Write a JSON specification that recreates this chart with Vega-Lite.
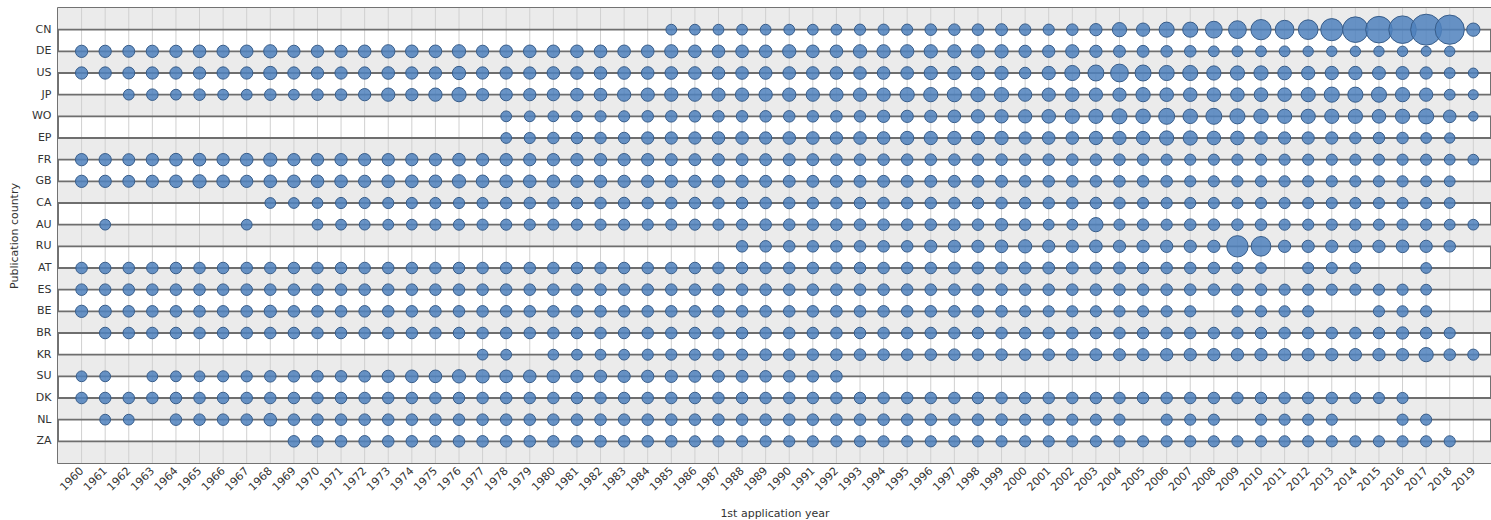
{
"$schema": "https://vega.github.io/schema/vega-lite/v6.json",
"width": 1433, "height": 455,
"autosize": {"type": "none"},
"padding": {"left": 58, "top": 8, "right": 0, "bottom": 57},
"background": "white",
"config": {"view": {"stroke": "#444", "strokeWidth": 1.5}, "font": "DejaVu Sans",
  "axisX": {"format": "d", "labelAngle": -45, "labelAlign": "right", "labelBaseline": "middle", "labelFontSize": 11, "labelColor": "#333", "ticks": false, "domain": false, "grid": false, "labelPadding": 6, "labelOverlap": false, "titleFontSize": 11, "titleFontWeight": "normal", "titleColor": "#333", "titlePadding": 15},
  "axisY": {"ticks": false, "domain": false, "grid": false, "labelFontSize": 11, "labelColor": "#333", "labelPadding": 7, "titleFontSize": 11, "titleFontWeight": "normal", "titleColor": "#333", "titlePadding": 12}},
"data": {"values": [
{"c":"CN","y":1985,"n":3},{"c":"CN","y":1986,"n":3},{"c":"CN","y":1987,"n":3},{"c":"CN","y":1988,"n":3},{"c":"CN","y":1989,"n":3},{"c":"CN","y":1990,"n":3},{"c":"CN","y":1991,"n":3},{"c":"CN","y":1992,"n":3},{"c":"CN","y":1993,"n":4},{"c":"CN","y":1994,"n":4},{"c":"CN","y":1995,"n":4},{"c":"CN","y":1996,"n":5},{"c":"CN","y":1997,"n":5},{"c":"CN","y":1998,"n":5},{"c":"CN","y":1999,"n":6},{"c":"CN","y":2000,"n":5},{"c":"CN","y":2001,"n":4},{"c":"CN","y":2002,"n":5},{"c":"CN","y":2003,"n":7},{"c":"CN","y":2004,"n":13},{"c":"CN","y":2005,"n":10},{"c":"CN","y":2006,"n":16},{"c":"CN","y":2007,"n":16},{"c":"CN","y":2008,"n":22},{"c":"CN","y":2009,"n":26},{"c":"CN","y":2010,"n":37},{"c":"CN","y":2011,"n":30},{"c":"CN","y":2012,"n":34},{"c":"CN","y":2013,"n":46},{"c":"CN","y":2014,"n":65},{"c":"CN","y":2015,"n":71},{"c":"CN","y":2016,"n":77},{"c":"CN","y":2017,"n":100},{"c":"CN","y":2018,"n":88},{"c":"CN","y":2019,"n":10},
{"c":"DE","y":1960,"n":7},{"c":"DE","y":1961,"n":7},{"c":"DE","y":1962,"n":6},{"c":"DE","y":1963,"n":7},{"c":"DE","y":1964,"n":7},{"c":"DE","y":1965,"n":8},{"c":"DE","y":1966,"n":7},{"c":"DE","y":1967,"n":8},{"c":"DE","y":1968,"n":10},{"c":"DE","y":1969,"n":7},{"c":"DE","y":1970,"n":7},{"c":"DE","y":1971,"n":7},{"c":"DE","y":1972,"n":8},{"c":"DE","y":1973,"n":10},{"c":"DE","y":1974,"n":8},{"c":"DE","y":1975,"n":8},{"c":"DE","y":1976,"n":10},{"c":"DE","y":1977,"n":7},{"c":"DE","y":1978,"n":8},{"c":"DE","y":1979,"n":8},{"c":"DE","y":1980,"n":8},{"c":"DE","y":1981,"n":8},{"c":"DE","y":1982,"n":8},{"c":"DE","y":1983,"n":8},{"c":"DE","y":1984,"n":8},{"c":"DE","y":1985,"n":10},{"c":"DE","y":1986,"n":8},{"c":"DE","y":1987,"n":8},{"c":"DE","y":1988,"n":8},{"c":"DE","y":1989,"n":8},{"c":"DE","y":1990,"n":10},{"c":"DE","y":1991,"n":8},{"c":"DE","y":1992,"n":8},{"c":"DE","y":1993,"n":10},{"c":"DE","y":1994,"n":10},{"c":"DE","y":1995,"n":10},{"c":"DE","y":1996,"n":10},{"c":"DE","y":1997,"n":10},{"c":"DE","y":1998,"n":10},{"c":"DE","y":1999,"n":10},{"c":"DE","y":2000,"n":7},{"c":"DE","y":2001,"n":7},{"c":"DE","y":2002,"n":10},{"c":"DE","y":2003,"n":7},{"c":"DE","y":2004,"n":6},{"c":"DE","y":2005,"n":6},{"c":"DE","y":2006,"n":5},{"c":"DE","y":2007,"n":5},{"c":"DE","y":2008,"n":3},{"c":"DE","y":2009,"n":3},{"c":"DE","y":2010,"n":3},{"c":"DE","y":2011,"n":3},{"c":"DE","y":2012,"n":2},{"c":"DE","y":2013,"n":2},{"c":"DE","y":2014,"n":2},{"c":"DE","y":2015,"n":2},{"c":"DE","y":2016,"n":2},{"c":"DE","y":2017,"n":1},{"c":"DE","y":2018,"n":2},
{"c":"US","y":1960,"n":7},{"c":"US","y":1961,"n":7},{"c":"US","y":1962,"n":6},{"c":"US","y":1963,"n":7},{"c":"US","y":1964,"n":7},{"c":"US","y":1965,"n":7},{"c":"US","y":1966,"n":7},{"c":"US","y":1967,"n":7},{"c":"US","y":1968,"n":10},{"c":"US","y":1969,"n":7},{"c":"US","y":1970,"n":7},{"c":"US","y":1971,"n":7},{"c":"US","y":1972,"n":7},{"c":"US","y":1973,"n":8},{"c":"US","y":1974,"n":7},{"c":"US","y":1975,"n":7},{"c":"US","y":1976,"n":10},{"c":"US","y":1977,"n":7},{"c":"US","y":1978,"n":7},{"c":"US","y":1979,"n":7},{"c":"US","y":1980,"n":8},{"c":"US","y":1981,"n":8},{"c":"US","y":1982,"n":8},{"c":"US","y":1983,"n":8},{"c":"US","y":1984,"n":8},{"c":"US","y":1985,"n":8},{"c":"US","y":1986,"n":8},{"c":"US","y":1987,"n":8},{"c":"US","y":1988,"n":8},{"c":"US","y":1989,"n":8},{"c":"US","y":1990,"n":8},{"c":"US","y":1991,"n":8},{"c":"US","y":1992,"n":8},{"c":"US","y":1993,"n":8},{"c":"US","y":1994,"n":8},{"c":"US","y":1995,"n":8},{"c":"US","y":1996,"n":10},{"c":"US","y":1997,"n":10},{"c":"US","y":1998,"n":10},{"c":"US","y":1999,"n":10},{"c":"US","y":2000,"n":5},{"c":"US","y":2001,"n":10},{"c":"US","y":2002,"n":16},{"c":"US","y":2003,"n":19},{"c":"US","y":2004,"n":26},{"c":"US","y":2005,"n":19},{"c":"US","y":2006,"n":16},{"c":"US","y":2007,"n":16},{"c":"US","y":2008,"n":13},{"c":"US","y":2009,"n":13},{"c":"US","y":2010,"n":13},{"c":"US","y":2011,"n":11},{"c":"US","y":2012,"n":10},{"c":"US","y":2013,"n":10},{"c":"US","y":2014,"n":10},{"c":"US","y":2015,"n":9},{"c":"US","y":2016,"n":9},{"c":"US","y":2017,"n":7},{"c":"US","y":2018,"n":3},{"c":"US","y":2019,"n":1},
{"c":"JP","y":1962,"n":3},{"c":"JP","y":1963,"n":5},{"c":"JP","y":1964,"n":3},{"c":"JP","y":1965,"n":5},{"c":"JP","y":1966,"n":3},{"c":"JP","y":1967,"n":3},{"c":"JP","y":1968,"n":5},{"c":"JP","y":1969,"n":3},{"c":"JP","y":1970,"n":5},{"c":"JP","y":1971,"n":5},{"c":"JP","y":1972,"n":7},{"c":"JP","y":1973,"n":10},{"c":"JP","y":1974,"n":7},{"c":"JP","y":1975,"n":10},{"c":"JP","y":1976,"n":13},{"c":"JP","y":1977,"n":7},{"c":"JP","y":1978,"n":7},{"c":"JP","y":1979,"n":7},{"c":"JP","y":1980,"n":7},{"c":"JP","y":1981,"n":8},{"c":"JP","y":1982,"n":8},{"c":"JP","y":1983,"n":10},{"c":"JP","y":1984,"n":10},{"c":"JP","y":1985,"n":10},{"c":"JP","y":1986,"n":10},{"c":"JP","y":1987,"n":10},{"c":"JP","y":1988,"n":10},{"c":"JP","y":1989,"n":10},{"c":"JP","y":1990,"n":10},{"c":"JP","y":1991,"n":10},{"c":"JP","y":1992,"n":10},{"c":"JP","y":1993,"n":10},{"c":"JP","y":1994,"n":10},{"c":"JP","y":1995,"n":13},{"c":"JP","y":1996,"n":13},{"c":"JP","y":1997,"n":13},{"c":"JP","y":1998,"n":13},{"c":"JP","y":1999,"n":13},{"c":"JP","y":2000,"n":10},{"c":"JP","y":2001,"n":10},{"c":"JP","y":2002,"n":11},{"c":"JP","y":2003,"n":10},{"c":"JP","y":2004,"n":10},{"c":"JP","y":2005,"n":13},{"c":"JP","y":2006,"n":11},{"c":"JP","y":2007,"n":11},{"c":"JP","y":2008,"n":11},{"c":"JP","y":2009,"n":11},{"c":"JP","y":2010,"n":11},{"c":"JP","y":2011,"n":11},{"c":"JP","y":2012,"n":13},{"c":"JP","y":2013,"n":16},{"c":"JP","y":2014,"n":16},{"c":"JP","y":2015,"n":16},{"c":"JP","y":2016,"n":13},{"c":"JP","y":2017,"n":10},{"c":"JP","y":2018,"n":3},{"c":"JP","y":2019,"n":1},
{"c":"WO","y":1978,"n":3},{"c":"WO","y":1979,"n":3},{"c":"WO","y":1980,"n":3},{"c":"WO","y":1981,"n":3},{"c":"WO","y":1982,"n":4},{"c":"WO","y":1983,"n":4},{"c":"WO","y":1984,"n":5},{"c":"WO","y":1985,"n":5},{"c":"WO","y":1986,"n":5},{"c":"WO","y":1987,"n":5},{"c":"WO","y":1988,"n":5},{"c":"WO","y":1989,"n":5},{"c":"WO","y":1990,"n":5},{"c":"WO","y":1991,"n":5},{"c":"WO","y":1992,"n":5},{"c":"WO","y":1993,"n":5},{"c":"WO","y":1994,"n":7},{"c":"WO","y":1995,"n":7},{"c":"WO","y":1996,"n":7},{"c":"WO","y":1997,"n":8},{"c":"WO","y":1998,"n":10},{"c":"WO","y":1999,"n":10},{"c":"WO","y":2000,"n":10},{"c":"WO","y":2001,"n":11},{"c":"WO","y":2002,"n":13},{"c":"WO","y":2003,"n":13},{"c":"WO","y":2004,"n":16},{"c":"WO","y":2005,"n":14},{"c":"WO","y":2006,"n":19},{"c":"WO","y":2007,"n":14},{"c":"WO","y":2008,"n":19},{"c":"WO","y":2009,"n":16},{"c":"WO","y":2010,"n":14},{"c":"WO","y":2011,"n":13},{"c":"WO","y":2012,"n":13},{"c":"WO","y":2013,"n":13},{"c":"WO","y":2014,"n":13},{"c":"WO","y":2015,"n":11},{"c":"WO","y":2016,"n":13},{"c":"WO","y":2017,"n":16},{"c":"WO","y":2018,"n":8},{"c":"WO","y":2019,"n":0},
{"c":"EP","y":1978,"n":3},{"c":"EP","y":1979,"n":4},{"c":"EP","y":1980,"n":5},{"c":"EP","y":1981,"n":5},{"c":"EP","y":1982,"n":5},{"c":"EP","y":1983,"n":5},{"c":"EP","y":1984,"n":7},{"c":"EP","y":1985,"n":7},{"c":"EP","y":1986,"n":7},{"c":"EP","y":1987,"n":8},{"c":"EP","y":1988,"n":8},{"c":"EP","y":1989,"n":7},{"c":"EP","y":1990,"n":8},{"c":"EP","y":1991,"n":8},{"c":"EP","y":1992,"n":7},{"c":"EP","y":1993,"n":8},{"c":"EP","y":1994,"n":8},{"c":"EP","y":1995,"n":10},{"c":"EP","y":1996,"n":10},{"c":"EP","y":1997,"n":10},{"c":"EP","y":1998,"n":10},{"c":"EP","y":1999,"n":10},{"c":"EP","y":2000,"n":7},{"c":"EP","y":2001,"n":8},{"c":"EP","y":2002,"n":8},{"c":"EP","y":2003,"n":10},{"c":"EP","y":2004,"n":10},{"c":"EP","y":2005,"n":10},{"c":"EP","y":2006,"n":13},{"c":"EP","y":2007,"n":13},{"c":"EP","y":2008,"n":11},{"c":"EP","y":2009,"n":11},{"c":"EP","y":2010,"n":8},{"c":"EP","y":2011,"n":7},{"c":"EP","y":2012,"n":7},{"c":"EP","y":2013,"n":7},{"c":"EP","y":2014,"n":5},{"c":"EP","y":2015,"n":5},{"c":"EP","y":2016,"n":5},{"c":"EP","y":2017,"n":3},{"c":"EP","y":2018,"n":2},
{"c":"FR","y":1960,"n":7},{"c":"FR","y":1961,"n":7},{"c":"FR","y":1962,"n":6},{"c":"FR","y":1963,"n":7},{"c":"FR","y":1964,"n":8},{"c":"FR","y":1965,"n":8},{"c":"FR","y":1966,"n":7},{"c":"FR","y":1967,"n":8},{"c":"FR","y":1968,"n":10},{"c":"FR","y":1969,"n":7},{"c":"FR","y":1970,"n":7},{"c":"FR","y":1971,"n":7},{"c":"FR","y":1972,"n":7},{"c":"FR","y":1973,"n":7},{"c":"FR","y":1974,"n":7},{"c":"FR","y":1975,"n":7},{"c":"FR","y":1976,"n":8},{"c":"FR","y":1977,"n":7},{"c":"FR","y":1978,"n":7},{"c":"FR","y":1979,"n":7},{"c":"FR","y":1980,"n":7},{"c":"FR","y":1981,"n":7},{"c":"FR","y":1982,"n":7},{"c":"FR","y":1983,"n":7},{"c":"FR","y":1984,"n":7},{"c":"FR","y":1985,"n":6},{"c":"FR","y":1986,"n":6},{"c":"FR","y":1987,"n":6},{"c":"FR","y":1988,"n":6},{"c":"FR","y":1989,"n":6},{"c":"FR","y":1990,"n":6},{"c":"FR","y":1991,"n":6},{"c":"FR","y":1992,"n":5},{"c":"FR","y":1993,"n":5},{"c":"FR","y":1994,"n":5},{"c":"FR","y":1995,"n":5},{"c":"FR","y":1996,"n":5},{"c":"FR","y":1997,"n":5},{"c":"FR","y":1998,"n":5},{"c":"FR","y":1999,"n":5},{"c":"FR","y":2000,"n":5},{"c":"FR","y":2001,"n":5},{"c":"FR","y":2002,"n":5},{"c":"FR","y":2003,"n":5},{"c":"FR","y":2004,"n":5},{"c":"FR","y":2005,"n":5},{"c":"FR","y":2006,"n":4},{"c":"FR","y":2007,"n":4},{"c":"FR","y":2008,"n":4},{"c":"FR","y":2009,"n":4},{"c":"FR","y":2010,"n":4},{"c":"FR","y":2011,"n":4},{"c":"FR","y":2012,"n":4},{"c":"FR","y":2013,"n":4},{"c":"FR","y":2014,"n":4},{"c":"FR","y":2015,"n":4},{"c":"FR","y":2016,"n":4},{"c":"FR","y":2017,"n":4},{"c":"FR","y":2018,"n":3},{"c":"FR","y":2019,"n":3},
{"c":"GB","y":1960,"n":7},{"c":"GB","y":1961,"n":7},{"c":"GB","y":1962,"n":6},{"c":"GB","y":1963,"n":7},{"c":"GB","y":1964,"n":8},{"c":"GB","y":1965,"n":10},{"c":"GB","y":1966,"n":8},{"c":"GB","y":1967,"n":7},{"c":"GB","y":1968,"n":8},{"c":"GB","y":1969,"n":8},{"c":"GB","y":1970,"n":8},{"c":"GB","y":1971,"n":8},{"c":"GB","y":1972,"n":7},{"c":"GB","y":1973,"n":8},{"c":"GB","y":1974,"n":8},{"c":"GB","y":1975,"n":8},{"c":"GB","y":1976,"n":10},{"c":"GB","y":1977,"n":8},{"c":"GB","y":1978,"n":8},{"c":"GB","y":1979,"n":8},{"c":"GB","y":1980,"n":8},{"c":"GB","y":1981,"n":7},{"c":"GB","y":1982,"n":7},{"c":"GB","y":1983,"n":7},{"c":"GB","y":1984,"n":7},{"c":"GB","y":1985,"n":7},{"c":"GB","y":1986,"n":7},{"c":"GB","y":1987,"n":7},{"c":"GB","y":1988,"n":7},{"c":"GB","y":1989,"n":6},{"c":"GB","y":1990,"n":6},{"c":"GB","y":1991,"n":6},{"c":"GB","y":1992,"n":6},{"c":"GB","y":1993,"n":6},{"c":"GB","y":1994,"n":6},{"c":"GB","y":1995,"n":6},{"c":"GB","y":1996,"n":6},{"c":"GB","y":1997,"n":6},{"c":"GB","y":1998,"n":6},{"c":"GB","y":1999,"n":6},{"c":"GB","y":2000,"n":5},{"c":"GB","y":2001,"n":5},{"c":"GB","y":2002,"n":5},{"c":"GB","y":2003,"n":5},{"c":"GB","y":2004,"n":5},{"c":"GB","y":2005,"n":5},{"c":"GB","y":2006,"n":5},{"c":"GB","y":2007,"n":4},{"c":"GB","y":2008,"n":4},{"c":"GB","y":2009,"n":4},{"c":"GB","y":2010,"n":4},{"c":"GB","y":2011,"n":4},{"c":"GB","y":2012,"n":4},{"c":"GB","y":2013,"n":4},{"c":"GB","y":2014,"n":4},{"c":"GB","y":2015,"n":4},{"c":"GB","y":2016,"n":4},{"c":"GB","y":2017,"n":3},{"c":"GB","y":2018,"n":3},
{"c":"CA","y":1968,"n":3},{"c":"CA","y":1969,"n":3},{"c":"CA","y":1970,"n":3},{"c":"CA","y":1971,"n":4},{"c":"CA","y":1972,"n":4},{"c":"CA","y":1973,"n":4},{"c":"CA","y":1974,"n":4},{"c":"CA","y":1975,"n":4},{"c":"CA","y":1976,"n":4},{"c":"CA","y":1977,"n":4},{"c":"CA","y":1978,"n":5},{"c":"CA","y":1979,"n":5},{"c":"CA","y":1980,"n":5},{"c":"CA","y":1981,"n":5},{"c":"CA","y":1982,"n":5},{"c":"CA","y":1983,"n":5},{"c":"CA","y":1984,"n":5},{"c":"CA","y":1985,"n":5},{"c":"CA","y":1986,"n":5},{"c":"CA","y":1987,"n":5},{"c":"CA","y":1988,"n":5},{"c":"CA","y":1989,"n":5},{"c":"CA","y":1990,"n":5},{"c":"CA","y":1991,"n":5},{"c":"CA","y":1992,"n":5},{"c":"CA","y":1993,"n":5},{"c":"CA","y":1994,"n":5},{"c":"CA","y":1995,"n":5},{"c":"CA","y":1996,"n":5},{"c":"CA","y":1997,"n":5},{"c":"CA","y":1998,"n":5},{"c":"CA","y":1999,"n":5},{"c":"CA","y":2000,"n":5},{"c":"CA","y":2001,"n":5},{"c":"CA","y":2002,"n":5},{"c":"CA","y":2003,"n":5},{"c":"CA","y":2004,"n":5},{"c":"CA","y":2005,"n":4},{"c":"CA","y":2006,"n":4},{"c":"CA","y":2007,"n":4},{"c":"CA","y":2008,"n":4},{"c":"CA","y":2009,"n":4},{"c":"CA","y":2010,"n":4},{"c":"CA","y":2011,"n":4},{"c":"CA","y":2012,"n":4},{"c":"CA","y":2013,"n":4},{"c":"CA","y":2014,"n":4},{"c":"CA","y":2015,"n":4},{"c":"CA","y":2016,"n":4},{"c":"CA","y":2017,"n":4},{"c":"CA","y":2018,"n":3},
{"c":"AU","y":1961,"n":3},{"c":"AU","y":1967,"n":3},{"c":"AU","y":1970,"n":3},{"c":"AU","y":1971,"n":3},{"c":"AU","y":1972,"n":3},{"c":"AU","y":1973,"n":3},{"c":"AU","y":1974,"n":3},{"c":"AU","y":1975,"n":4},{"c":"AU","y":1976,"n":4},{"c":"AU","y":1977,"n":4},{"c":"AU","y":1978,"n":4},{"c":"AU","y":1979,"n":4},{"c":"AU","y":1980,"n":4},{"c":"AU","y":1981,"n":4},{"c":"AU","y":1982,"n":4},{"c":"AU","y":1983,"n":4},{"c":"AU","y":1984,"n":4},{"c":"AU","y":1985,"n":4},{"c":"AU","y":1986,"n":4},{"c":"AU","y":1987,"n":4},{"c":"AU","y":1988,"n":4},{"c":"AU","y":1989,"n":5},{"c":"AU","y":1990,"n":5},{"c":"AU","y":1991,"n":5},{"c":"AU","y":1992,"n":5},{"c":"AU","y":1993,"n":5},{"c":"AU","y":1994,"n":5},{"c":"AU","y":1995,"n":5},{"c":"AU","y":1996,"n":5},{"c":"AU","y":1997,"n":5},{"c":"AU","y":1998,"n":5},{"c":"AU","y":1999,"n":7},{"c":"AU","y":2000,"n":5},{"c":"AU","y":2001,"n":3},{"c":"AU","y":2002,"n":3},{"c":"AU","y":2003,"n":13},{"c":"AU","y":2004,"n":4},{"c":"AU","y":2005,"n":5},{"c":"AU","y":2006,"n":4},{"c":"AU","y":2007,"n":5},{"c":"AU","y":2008,"n":5},{"c":"AU","y":2009,"n":5},{"c":"AU","y":2010,"n":5},{"c":"AU","y":2011,"n":4},{"c":"AU","y":2012,"n":4},{"c":"AU","y":2013,"n":4},{"c":"AU","y":2014,"n":4},{"c":"AU","y":2015,"n":4},{"c":"AU","y":2016,"n":4},{"c":"AU","y":2017,"n":4},{"c":"AU","y":2018,"n":3},{"c":"AU","y":2019,"n":3},
{"c":"RU","y":1988,"n":5},{"c":"RU","y":1989,"n":5},{"c":"RU","y":1990,"n":5},{"c":"RU","y":1991,"n":5},{"c":"RU","y":1992,"n":5},{"c":"RU","y":1993,"n":5},{"c":"RU","y":1994,"n":5},{"c":"RU","y":1995,"n":5},{"c":"RU","y":1996,"n":7},{"c":"RU","y":1997,"n":7},{"c":"RU","y":1998,"n":7},{"c":"RU","y":1999,"n":8},{"c":"RU","y":2000,"n":10},{"c":"RU","y":2001,"n":7},{"c":"RU","y":2002,"n":7},{"c":"RU","y":2003,"n":8},{"c":"RU","y":2004,"n":7},{"c":"RU","y":2005,"n":7},{"c":"RU","y":2006,"n":7},{"c":"RU","y":2007,"n":7},{"c":"RU","y":2008,"n":7},{"c":"RU","y":2009,"n":42},{"c":"RU","y":2010,"n":34},{"c":"RU","y":2011,"n":7},{"c":"RU","y":2012,"n":7},{"c":"RU","y":2013,"n":7},{"c":"RU","y":2014,"n":8},{"c":"RU","y":2015,"n":7},{"c":"RU","y":2016,"n":8},{"c":"RU","y":2017,"n":7},{"c":"RU","y":2018,"n":5},
{"c":"AT","y":1960,"n":5},{"c":"AT","y":1961,"n":5},{"c":"AT","y":1962,"n":5},{"c":"AT","y":1963,"n":5},{"c":"AT","y":1964,"n":5},{"c":"AT","y":1965,"n":5},{"c":"AT","y":1966,"n":5},{"c":"AT","y":1967,"n":5},{"c":"AT","y":1968,"n":5},{"c":"AT","y":1969,"n":5},{"c":"AT","y":1970,"n":5},{"c":"AT","y":1971,"n":5},{"c":"AT","y":1972,"n":5},{"c":"AT","y":1973,"n":5},{"c":"AT","y":1974,"n":5},{"c":"AT","y":1975,"n":5},{"c":"AT","y":1976,"n":5},{"c":"AT","y":1977,"n":5},{"c":"AT","y":1978,"n":5},{"c":"AT","y":1979,"n":5},{"c":"AT","y":1980,"n":5},{"c":"AT","y":1981,"n":5},{"c":"AT","y":1982,"n":5},{"c":"AT","y":1983,"n":5},{"c":"AT","y":1984,"n":5},{"c":"AT","y":1985,"n":5},{"c":"AT","y":1986,"n":5},{"c":"AT","y":1987,"n":5},{"c":"AT","y":1988,"n":5},{"c":"AT","y":1989,"n":5},{"c":"AT","y":1990,"n":5},{"c":"AT","y":1991,"n":5},{"c":"AT","y":1992,"n":5},{"c":"AT","y":1993,"n":5},{"c":"AT","y":1994,"n":5},{"c":"AT","y":1995,"n":5},{"c":"AT","y":1996,"n":5},{"c":"AT","y":1997,"n":6},{"c":"AT","y":1998,"n":6},{"c":"AT","y":1999,"n":6},{"c":"AT","y":2000,"n":6},{"c":"AT","y":2001,"n":6},{"c":"AT","y":2002,"n":6},{"c":"AT","y":2003,"n":6},{"c":"AT","y":2004,"n":6},{"c":"AT","y":2005,"n":5},{"c":"AT","y":2006,"n":5},{"c":"AT","y":2007,"n":5},{"c":"AT","y":2008,"n":5},{"c":"AT","y":2009,"n":4},{"c":"AT","y":2010,"n":3},{"c":"AT","y":2012,"n":4},{"c":"AT","y":2013,"n":4},{"c":"AT","y":2014,"n":4},{"c":"AT","y":2017,"n":3},
{"c":"ES","y":1960,"n":5},{"c":"ES","y":1961,"n":5},{"c":"ES","y":1962,"n":5},{"c":"ES","y":1963,"n":5},{"c":"ES","y":1964,"n":5},{"c":"ES","y":1965,"n":5},{"c":"ES","y":1966,"n":5},{"c":"ES","y":1967,"n":5},{"c":"ES","y":1968,"n":5},{"c":"ES","y":1969,"n":5},{"c":"ES","y":1970,"n":5},{"c":"ES","y":1971,"n":5},{"c":"ES","y":1972,"n":5},{"c":"ES","y":1973,"n":5},{"c":"ES","y":1974,"n":5},{"c":"ES","y":1975,"n":5},{"c":"ES","y":1976,"n":5},{"c":"ES","y":1977,"n":5},{"c":"ES","y":1978,"n":5},{"c":"ES","y":1979,"n":5},{"c":"ES","y":1980,"n":5},{"c":"ES","y":1981,"n":5},{"c":"ES","y":1982,"n":5},{"c":"ES","y":1983,"n":5},{"c":"ES","y":1984,"n":5},{"c":"ES","y":1985,"n":5},{"c":"ES","y":1986,"n":5},{"c":"ES","y":1987,"n":5},{"c":"ES","y":1988,"n":5},{"c":"ES","y":1989,"n":5},{"c":"ES","y":1990,"n":5},{"c":"ES","y":1991,"n":5},{"c":"ES","y":1992,"n":5},{"c":"ES","y":1993,"n":5},{"c":"ES","y":1994,"n":5},{"c":"ES","y":1995,"n":5},{"c":"ES","y":1996,"n":5},{"c":"ES","y":1997,"n":5},{"c":"ES","y":1998,"n":5},{"c":"ES","y":1999,"n":5},{"c":"ES","y":2000,"n":5},{"c":"ES","y":2001,"n":5},{"c":"ES","y":2002,"n":5},{"c":"ES","y":2003,"n":5},{"c":"ES","y":2004,"n":5},{"c":"ES","y":2005,"n":5},{"c":"ES","y":2006,"n":5},{"c":"ES","y":2007,"n":5},{"c":"ES","y":2008,"n":5},{"c":"ES","y":2009,"n":5},{"c":"ES","y":2010,"n":5},{"c":"ES","y":2011,"n":4},{"c":"ES","y":2012,"n":4},{"c":"ES","y":2013,"n":4},{"c":"ES","y":2014,"n":4},{"c":"ES","y":2015,"n":4},{"c":"ES","y":2016,"n":4},{"c":"ES","y":2017,"n":3},
{"c":"BE","y":1960,"n":7},{"c":"BE","y":1961,"n":7},{"c":"BE","y":1962,"n":5},{"c":"BE","y":1963,"n":5},{"c":"BE","y":1964,"n":5},{"c":"BE","y":1965,"n":5},{"c":"BE","y":1966,"n":5},{"c":"BE","y":1967,"n":5},{"c":"BE","y":1968,"n":7},{"c":"BE","y":1969,"n":5},{"c":"BE","y":1970,"n":5},{"c":"BE","y":1971,"n":5},{"c":"BE","y":1972,"n":5},{"c":"BE","y":1973,"n":5},{"c":"BE","y":1974,"n":5},{"c":"BE","y":1975,"n":5},{"c":"BE","y":1976,"n":5},{"c":"BE","y":1977,"n":5},{"c":"BE","y":1978,"n":5},{"c":"BE","y":1979,"n":5},{"c":"BE","y":1980,"n":5},{"c":"BE","y":1981,"n":5},{"c":"BE","y":1982,"n":5},{"c":"BE","y":1983,"n":5},{"c":"BE","y":1984,"n":5},{"c":"BE","y":1985,"n":5},{"c":"BE","y":1986,"n":5},{"c":"BE","y":1987,"n":5},{"c":"BE","y":1988,"n":5},{"c":"BE","y":1989,"n":5},{"c":"BE","y":1990,"n":5},{"c":"BE","y":1991,"n":5},{"c":"BE","y":1992,"n":5},{"c":"BE","y":1993,"n":5},{"c":"BE","y":1994,"n":5},{"c":"BE","y":1995,"n":5},{"c":"BE","y":1996,"n":5},{"c":"BE","y":1997,"n":5},{"c":"BE","y":1998,"n":5},{"c":"BE","y":1999,"n":5},{"c":"BE","y":2000,"n":4},{"c":"BE","y":2001,"n":4},{"c":"BE","y":2002,"n":4},{"c":"BE","y":2003,"n":4},{"c":"BE","y":2004,"n":4},{"c":"BE","y":2005,"n":4},{"c":"BE","y":2006,"n":4},{"c":"BE","y":2007,"n":4},{"c":"BE","y":2009,"n":4},{"c":"BE","y":2010,"n":4},{"c":"BE","y":2011,"n":4},{"c":"BE","y":2012,"n":4},{"c":"BE","y":2015,"n":4},{"c":"BE","y":2016,"n":4},{"c":"BE","y":2017,"n":4},
{"c":"BR","y":1961,"n":5},{"c":"BR","y":1962,"n":5},{"c":"BR","y":1963,"n":5},{"c":"BR","y":1964,"n":5},{"c":"BR","y":1965,"n":5},{"c":"BR","y":1966,"n":5},{"c":"BR","y":1967,"n":5},{"c":"BR","y":1968,"n":5},{"c":"BR","y":1969,"n":5},{"c":"BR","y":1970,"n":5},{"c":"BR","y":1971,"n":5},{"c":"BR","y":1972,"n":5},{"c":"BR","y":1973,"n":5},{"c":"BR","y":1974,"n":5},{"c":"BR","y":1975,"n":5},{"c":"BR","y":1976,"n":5},{"c":"BR","y":1977,"n":5},{"c":"BR","y":1978,"n":5},{"c":"BR","y":1979,"n":5},{"c":"BR","y":1980,"n":5},{"c":"BR","y":1981,"n":5},{"c":"BR","y":1982,"n":5},{"c":"BR","y":1983,"n":5},{"c":"BR","y":1984,"n":5},{"c":"BR","y":1985,"n":5},{"c":"BR","y":1986,"n":5},{"c":"BR","y":1987,"n":5},{"c":"BR","y":1988,"n":5},{"c":"BR","y":1989,"n":5},{"c":"BR","y":1990,"n":5},{"c":"BR","y":1991,"n":5},{"c":"BR","y":1992,"n":5},{"c":"BR","y":1993,"n":5},{"c":"BR","y":1994,"n":5},{"c":"BR","y":1995,"n":5},{"c":"BR","y":1996,"n":5},{"c":"BR","y":1997,"n":5},{"c":"BR","y":1998,"n":5},{"c":"BR","y":1999,"n":5},{"c":"BR","y":2000,"n":5},{"c":"BR","y":2001,"n":5},{"c":"BR","y":2002,"n":5},{"c":"BR","y":2003,"n":5},{"c":"BR","y":2004,"n":5},{"c":"BR","y":2005,"n":5},{"c":"BR","y":2006,"n":5},{"c":"BR","y":2007,"n":5},{"c":"BR","y":2008,"n":5},{"c":"BR","y":2009,"n":5},{"c":"BR","y":2010,"n":5},{"c":"BR","y":2011,"n":5},{"c":"BR","y":2012,"n":5},{"c":"BR","y":2013,"n":5},{"c":"BR","y":2014,"n":5},{"c":"BR","y":2015,"n":5},{"c":"BR","y":2016,"n":7},{"c":"BR","y":2017,"n":5},{"c":"BR","y":2018,"n":4},
{"c":"KR","y":1977,"n":3},{"c":"KR","y":1978,"n":3},{"c":"KR","y":1980,"n":3},{"c":"KR","y":1981,"n":3},{"c":"KR","y":1982,"n":3},{"c":"KR","y":1983,"n":3},{"c":"KR","y":1984,"n":4},{"c":"KR","y":1985,"n":4},{"c":"KR","y":1986,"n":4},{"c":"KR","y":1987,"n":4},{"c":"KR","y":1988,"n":4},{"c":"KR","y":1989,"n":5},{"c":"KR","y":1990,"n":5},{"c":"KR","y":1991,"n":5},{"c":"KR","y":1992,"n":5},{"c":"KR","y":1993,"n":5},{"c":"KR","y":1994,"n":5},{"c":"KR","y":1995,"n":5},{"c":"KR","y":1996,"n":5},{"c":"KR","y":1997,"n":5},{"c":"KR","y":1998,"n":5},{"c":"KR","y":1999,"n":5},{"c":"KR","y":2000,"n":5},{"c":"KR","y":2001,"n":5},{"c":"KR","y":2002,"n":6},{"c":"KR","y":2003,"n":6},{"c":"KR","y":2004,"n":6},{"c":"KR","y":2005,"n":6},{"c":"KR","y":2006,"n":7},{"c":"KR","y":2007,"n":7},{"c":"KR","y":2008,"n":7},{"c":"KR","y":2009,"n":7},{"c":"KR","y":2010,"n":7},{"c":"KR","y":2011,"n":7},{"c":"KR","y":2012,"n":7},{"c":"KR","y":2013,"n":7},{"c":"KR","y":2014,"n":7},{"c":"KR","y":2015,"n":7},{"c":"KR","y":2016,"n":7},{"c":"KR","y":2017,"n":13},{"c":"KR","y":2018,"n":5},{"c":"KR","y":2019,"n":4},
{"c":"SU","y":1960,"n":3},{"c":"SU","y":1961,"n":3},{"c":"SU","y":1963,"n":3},{"c":"SU","y":1964,"n":3},{"c":"SU","y":1965,"n":3},{"c":"SU","y":1966,"n":4},{"c":"SU","y":1967,"n":4},{"c":"SU","y":1968,"n":5},{"c":"SU","y":1969,"n":5},{"c":"SU","y":1970,"n":5},{"c":"SU","y":1971,"n":5},{"c":"SU","y":1972,"n":5},{"c":"SU","y":1973,"n":7},{"c":"SU","y":1974,"n":8},{"c":"SU","y":1975,"n":8},{"c":"SU","y":1976,"n":10},{"c":"SU","y":1977,"n":10},{"c":"SU","y":1978,"n":8},{"c":"SU","y":1979,"n":8},{"c":"SU","y":1980,"n":8},{"c":"SU","y":1981,"n":7},{"c":"SU","y":1982,"n":7},{"c":"SU","y":1983,"n":7},{"c":"SU","y":1984,"n":7},{"c":"SU","y":1985,"n":7},{"c":"SU","y":1986,"n":6},{"c":"SU","y":1987,"n":6},{"c":"SU","y":1988,"n":6},{"c":"SU","y":1989,"n":5},{"c":"SU","y":1990,"n":5},{"c":"SU","y":1991,"n":5},{"c":"SU","y":1992,"n":5},
{"c":"DK","y":1960,"n":5},{"c":"DK","y":1961,"n":5},{"c":"DK","y":1962,"n":5},{"c":"DK","y":1963,"n":5},{"c":"DK","y":1964,"n":5},{"c":"DK","y":1965,"n":5},{"c":"DK","y":1966,"n":5},{"c":"DK","y":1967,"n":5},{"c":"DK","y":1968,"n":5},{"c":"DK","y":1969,"n":5},{"c":"DK","y":1970,"n":5},{"c":"DK","y":1971,"n":5},{"c":"DK","y":1972,"n":5},{"c":"DK","y":1973,"n":5},{"c":"DK","y":1974,"n":5},{"c":"DK","y":1975,"n":5},{"c":"DK","y":1976,"n":5},{"c":"DK","y":1977,"n":5},{"c":"DK","y":1978,"n":5},{"c":"DK","y":1979,"n":5},{"c":"DK","y":1980,"n":5},{"c":"DK","y":1981,"n":5},{"c":"DK","y":1982,"n":5},{"c":"DK","y":1983,"n":5},{"c":"DK","y":1984,"n":5},{"c":"DK","y":1985,"n":5},{"c":"DK","y":1986,"n":5},{"c":"DK","y":1987,"n":5},{"c":"DK","y":1988,"n":5},{"c":"DK","y":1989,"n":5},{"c":"DK","y":1990,"n":5},{"c":"DK","y":1991,"n":5},{"c":"DK","y":1992,"n":5},{"c":"DK","y":1993,"n":5},{"c":"DK","y":1994,"n":5},{"c":"DK","y":1995,"n":5},{"c":"DK","y":1996,"n":5},{"c":"DK","y":1997,"n":5},{"c":"DK","y":1998,"n":5},{"c":"DK","y":1999,"n":5},{"c":"DK","y":2000,"n":5},{"c":"DK","y":2001,"n":5},{"c":"DK","y":2002,"n":5},{"c":"DK","y":2003,"n":5},{"c":"DK","y":2004,"n":5},{"c":"DK","y":2005,"n":5},{"c":"DK","y":2006,"n":5},{"c":"DK","y":2007,"n":5},{"c":"DK","y":2008,"n":5},{"c":"DK","y":2009,"n":5},{"c":"DK","y":2010,"n":5},{"c":"DK","y":2011,"n":5},{"c":"DK","y":2012,"n":5},{"c":"DK","y":2013,"n":5},{"c":"DK","y":2014,"n":4},{"c":"DK","y":2015,"n":4},{"c":"DK","y":2016,"n":4},
{"c":"NL","y":1961,"n":3},{"c":"NL","y":1962,"n":3},{"c":"NL","y":1964,"n":5},{"c":"NL","y":1965,"n":5},{"c":"NL","y":1966,"n":5},{"c":"NL","y":1967,"n":5},{"c":"NL","y":1968,"n":8},{"c":"NL","y":1969,"n":5},{"c":"NL","y":1970,"n":5},{"c":"NL","y":1971,"n":5},{"c":"NL","y":1972,"n":5},{"c":"NL","y":1973,"n":5},{"c":"NL","y":1974,"n":5},{"c":"NL","y":1975,"n":5},{"c":"NL","y":1976,"n":5},{"c":"NL","y":1977,"n":5},{"c":"NL","y":1978,"n":5},{"c":"NL","y":1979,"n":5},{"c":"NL","y":1980,"n":5},{"c":"NL","y":1981,"n":5},{"c":"NL","y":1982,"n":5},{"c":"NL","y":1983,"n":5},{"c":"NL","y":1984,"n":5},{"c":"NL","y":1985,"n":5},{"c":"NL","y":1986,"n":5},{"c":"NL","y":1987,"n":5},{"c":"NL","y":1988,"n":5},{"c":"NL","y":1989,"n":5},{"c":"NL","y":1990,"n":5},{"c":"NL","y":1991,"n":5},{"c":"NL","y":1992,"n":5},{"c":"NL","y":1993,"n":5},{"c":"NL","y":1994,"n":5},{"c":"NL","y":1995,"n":5},{"c":"NL","y":1996,"n":5},{"c":"NL","y":1997,"n":5},{"c":"NL","y":1998,"n":5},{"c":"NL","y":1999,"n":5},{"c":"NL","y":2000,"n":4},{"c":"NL","y":2001,"n":4},{"c":"NL","y":2002,"n":4},{"c":"NL","y":2003,"n":4},{"c":"NL","y":2004,"n":4},{"c":"NL","y":2006,"n":4},{"c":"NL","y":2007,"n":4},{"c":"NL","y":2008,"n":4},{"c":"NL","y":2010,"n":4},{"c":"NL","y":2011,"n":4},{"c":"NL","y":2012,"n":4},{"c":"NL","y":2013,"n":4},{"c":"NL","y":2016,"n":4},{"c":"NL","y":2017,"n":4},
{"c":"ZA","y":1969,"n":5},{"c":"ZA","y":1970,"n":5},{"c":"ZA","y":1971,"n":5},{"c":"ZA","y":1972,"n":5},{"c":"ZA","y":1973,"n":5},{"c":"ZA","y":1974,"n":5},{"c":"ZA","y":1975,"n":5},{"c":"ZA","y":1976,"n":5},{"c":"ZA","y":1977,"n":5},{"c":"ZA","y":1978,"n":5},{"c":"ZA","y":1979,"n":5},{"c":"ZA","y":1980,"n":5},{"c":"ZA","y":1981,"n":5},{"c":"ZA","y":1982,"n":5},{"c":"ZA","y":1983,"n":5},{"c":"ZA","y":1984,"n":5},{"c":"ZA","y":1985,"n":5},{"c":"ZA","y":1986,"n":4},{"c":"ZA","y":1987,"n":4},{"c":"ZA","y":1988,"n":4},{"c":"ZA","y":1989,"n":4},{"c":"ZA","y":1990,"n":4},{"c":"ZA","y":1991,"n":4},{"c":"ZA","y":1992,"n":4},{"c":"ZA","y":1993,"n":4},{"c":"ZA","y":1994,"n":4},{"c":"ZA","y":1995,"n":4},{"c":"ZA","y":1996,"n":4},{"c":"ZA","y":1997,"n":4},{"c":"ZA","y":1998,"n":4},{"c":"ZA","y":1999,"n":4},{"c":"ZA","y":2000,"n":4},{"c":"ZA","y":2001,"n":4},{"c":"ZA","y":2002,"n":4},{"c":"ZA","y":2003,"n":4},{"c":"ZA","y":2004,"n":4},{"c":"ZA","y":2005,"n":4},{"c":"ZA","y":2006,"n":4},{"c":"ZA","y":2007,"n":4},{"c":"ZA","y":2008,"n":4},{"c":"ZA","y":2009,"n":4},{"c":"ZA","y":2010,"n":4},{"c":"ZA","y":2011,"n":4},{"c":"ZA","y":2012,"n":4},{"c":"ZA","y":2013,"n":4},{"c":"ZA","y":2014,"n":4},{"c":"ZA","y":2015,"n":4},{"c":"ZA","y":2016,"n":4},{"c":"ZA","y":2017,"n":4},{"c":"ZA","y":2018,"n":4}
]},
"layer": [
{"transform": [{"aggregate": [{"op": "count", "as": "k"}], "groupby": ["c"]}, {"filter": {"field": "c", "oneOf": ["DE","JP","EP","GB","AU","AT","BE","KR","DK","ZA"]}}],
 "mark": {"type": "rect", "fill": "#ebebeb", "yOffset": 10.833, "y2Offset": 10.833},
 "encoding": {"y": {"field": "c", "type": "nominal", "title": "Publication country", "scale": {"type": "band", "domain": ["CN","DE","US","JP","WO","EP","FR","GB","CA","AU","RU","AT","ES","BE","BR","KR","SU","DK","NL","ZA"], "paddingInner": 0, "paddingOuter": 0.5}}}},
{"transform": [{"aggregate": [{"op": "count", "as": "k"}], "groupby": ["c"]}, {"filter": {"field": "c", "equal": "CN"}}],
 "mark": {"type": "rect", "fill": "#ebebeb", "yOffset": -10.833, "y2Offset": -10.833},
 "encoding": {"y": {"field": "c", "type": "nominal", "title": "Publication country", "scale": {"type": "band", "domain": ["CN","DE","US","JP","WO","EP","FR","GB","CA","AU","RU","AT","ES","BE","BR","KR","SU","DK","NL","ZA"], "paddingInner": 0, "paddingOuter": 0.5}}}},
{"transform": [{"aggregate": [{"op": "count", "as": "k"}], "groupby": ["y"]}],
 "mark": {"type": "rule", "color": "#d0d0d0", "strokeWidth": 1},
 "encoding": {"x": {"field": "y", "type": "quantitative", "title": "1st application year", "scale": {"domain": [1959, 2019.75], "nice": false, "zero": false},
   "axis": {"values": [1960,1961,1962,1963,1964,1965,1966,1967,1968,1969,1970,1971,1972,1973,1974,1975,1976,1977,1978,1979,1980,1981,1982,1983,1984,1985,1986,1987,1988,1989,1990,1991,1992,1993,1994,1995,1996,1997,1998,1999,2000,2001,2002,2003,2004,2005,2006,2007,2008,2009,2010,2011,2012,2013,2014,2015,2016,2017,2018,2019]}}}},
{"transform": [{"aggregate": [{"op": "count", "as": "k"}], "groupby": ["c"]}],
 "mark": {"type": "rule", "color": "#6e6e6e", "strokeWidth": 1.8},
 "encoding": {"y": {"field": "c", "type": "nominal", "title": "Publication country", "scale": {"type": "band", "domain": ["CN","DE","US","JP","WO","EP","FR","GB","CA","AU","RU","AT","ES","BE","BR","KR","SU","DK","NL","ZA"], "paddingInner": 0, "paddingOuter": 0.5}}}},
{"mark": {"type": "circle", "fill": "#4f81bd", "fillOpacity": 0.85, "stroke": "#385d8a", "strokeWidth": 1, "opacity": 1},
 "encoding": {
  "x": {"field": "y", "type": "quantitative", "title": "1st application year", "scale": {"domain": [1959, 2019.75], "nice": false, "zero": false},
   "axis": {"values": [1960,1961,1962,1963,1964,1965,1966,1967,1968,1969,1970,1971,1972,1973,1974,1975,1976,1977,1978,1979,1980,1981,1982,1983,1984,1985,1986,1987,1988,1989,1990,1991,1992,1993,1994,1995,1996,1997,1998,1999,2000,2001,2002,2003,2004,2005,2006,2007,2008,2009,2010,2011,2012,2013,2014,2015,2016,2017,2018,2019]}},
  "y": {"field": "c", "type": "nominal", "title": "Publication country", "scale": {"type": "band", "domain": ["CN","DE","US","JP","WO","EP","FR","GB","CA","AU","RU","AT","ES","BE","BR","KR","SU","DK","NL","ZA"], "paddingInner": 0, "paddingOuter": 0.5}},
  "size": {"field": "n", "type": "quantitative", "scale": {"domain": [0, 100], "range": [90, 960]}, "legend": null}}}
]
}
